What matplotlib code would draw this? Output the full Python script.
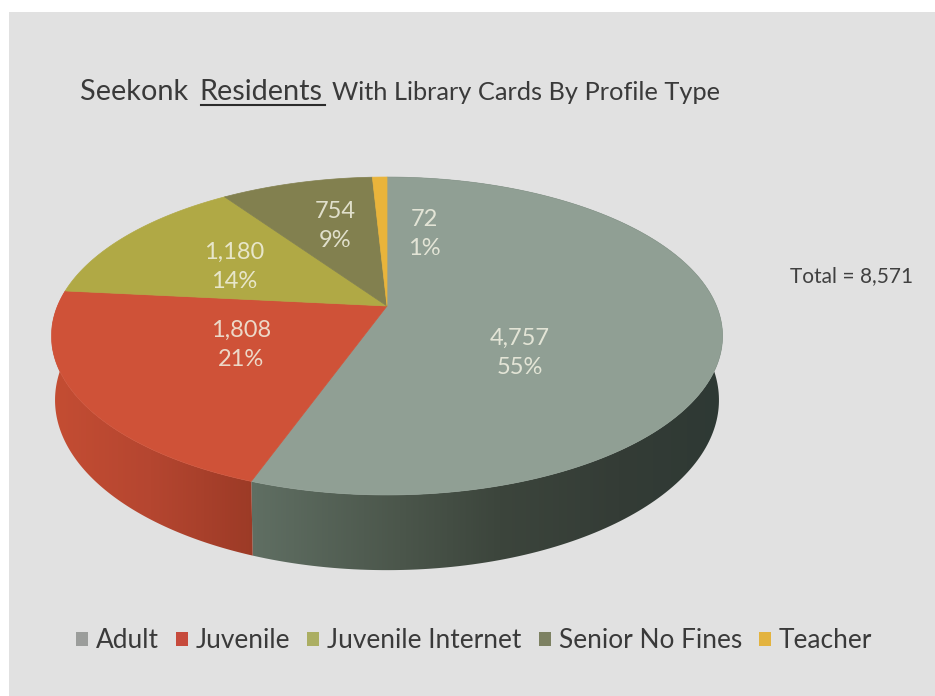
#!/usr/bin/env python3

import matplotlib
matplotlib.use("Agg")
import matplotlib.pyplot as plt
import numpy as np
from matplotlib.colors import LinearSegmentedColormap
from matplotlib.patches import Polygon, Rectangle

categories = ["Adult", "Juvenile", "Juvenile Internet", "Senior No Fines", "Teacher"]
counts = [4757, 1808, 1180, 754, 72]
percent_labels = ["55%", "21%", "14%", "9%", "1%"]
total_label = "Total = 8,571"

top_colors = ["#909f94", "#cf5238", "#b0a945", "#82804f", "#e9b43b"]
legend_colors = ["#9b9d9b", "#c64a3c", "#abae62", "#7d8162", "#e3b33f"]
label_xy = [(520, 353), (241, 345), (234, 267), (335, 226), (424, 234)]

plt.rcParams["font.family"] = ["Lato", "DejaVu Sans"]

# perspective disc: apex position, half-axes and foreshortening
CX, TOP_Y, BOTTOM_Y = 387.0, 306.0, 368.0
TOP_A, TOP_B = 329.5, 153.3
BOTTOM_A, BOTTOM_B = 326.0, 164.0
PERSP = 0.1887


def rim(theta, a, b, apex_y):
    # theta runs clockwise from twelve o'clock, in radians
    w = 1 + PERSP * np.cos(theta)
    return CX + a * np.sin(theta) / w, apex_y - b * np.cos(theta) / w


def arc_points(t0, t1, a, b, apex_y):
    xs, ys = rim(np.linspace(t0, t1, 200), a, b, apex_y)
    return np.column_stack([xs, ys])


fig = plt.figure(figsize=(9.35, 6.96), dpi=100, facecolor="white")
ax = fig.add_axes([0, 0, 1, 1])
ax.set_xlim(0, 935)
ax.set_ylim(696, 0)
ax.axis("off")
ax.add_patch(Rectangle((9, 12), 926, 684, facecolor="#e1e1e1", edgecolor="none", zorder=0))

edges = np.cumsum([0] + counts) / sum(counts) * 2 * np.pi

# outer wall, only the two front slices can be seen
wall_stops = [
    [(57, "#5f6e62"), (257, "#5f6e62"), (400, "#4b564b"), (500, "#3c453c"), (620, "#343c36"), (723, "#2e3934")],
    [(52, "#c44d33"), (150, "#b54630"), (257, "#9b3a26"), (723, "#9b3a26")],
]
for i, stops in enumerate(wall_stops):
    pts = np.vstack([
        arc_points(edges[i], edges[i + 1], TOP_A, TOP_B, TOP_Y),
        arc_points(edges[i + 1], edges[i], BOTTOM_A, BOTTOM_B, BOTTOM_Y),
    ])
    clip = Polygon(pts, closed=True, transform=ax.transData, facecolor="none", edgecolor="none")
    ax.add_patch(clip)
    x0, x1 = stops[0][0], stops[-1][0]
    cmap = LinearSegmentedColormap.from_list(
        "wall", [((x - x0) / (x1 - x0), c) for x, c in stops])
    grad = np.linspace(0, 1, 512).reshape(1, -1)
    im = ax.imshow(grad, cmap=cmap, extent=(x0, x1, 600, 150), aspect="auto", zorder=1)
    im.set_clip_path(clip)
ax.set_xlim(0, 935)
ax.set_ylim(696, 0)

# top face
for i, color in enumerate(top_colors):
    pts = np.vstack([[CX, TOP_Y], arc_points(edges[i], edges[i + 1], TOP_A, TOP_B, TOP_Y)])
    ax.add_patch(Polygon(pts, closed=True, facecolor=color, edgecolor=color, linewidth=0.5, zorder=2))

for (x, y), n, pct in zip(label_xy, counts, percent_labels):
    ax.text(x, y, f"{n:,}\n{pct}", ha="center", va="center", fontsize=17, color="#f2f1e2",
            alpha=0.85, linespacing=1.5, zorder=3)

# title, with one word underlined
title_y = 92
title_color = "#3a3a3a"
ax.text(80, title_y, "Seekonk", fontsize=20.8, color=title_color, va="center")
ax.text(199, title_y, "Residents", fontsize=20.8, color=title_color, va="center")
ax.text(332, title_y, "With Library Cards By Profile Type", fontsize=18.3, color=title_color, va="center")
ax.plot([201, 325], [105, 105], color="#2b2b2b", linewidth=1.5, zorder=3)

ax.text(790, 276, total_label, fontsize=15, color="#404040", va="center")

handles = [Rectangle((0, 0), 1, 1, facecolor=c, edgecolor="none") for c in legend_colors]
ax.legend(handles, categories, ncol=5, frameon=False, loc="center",
          bbox_to_anchor=(474, 641), bbox_transform=ax.transData,
          fontsize=18.9, labelcolor="#3a3a3a", handlelength=0.46, handleheight=0.46,
          handletextpad=0.3, columnspacing=0.65, borderpad=0)

fig.savefig("out.png", dpi=100)
